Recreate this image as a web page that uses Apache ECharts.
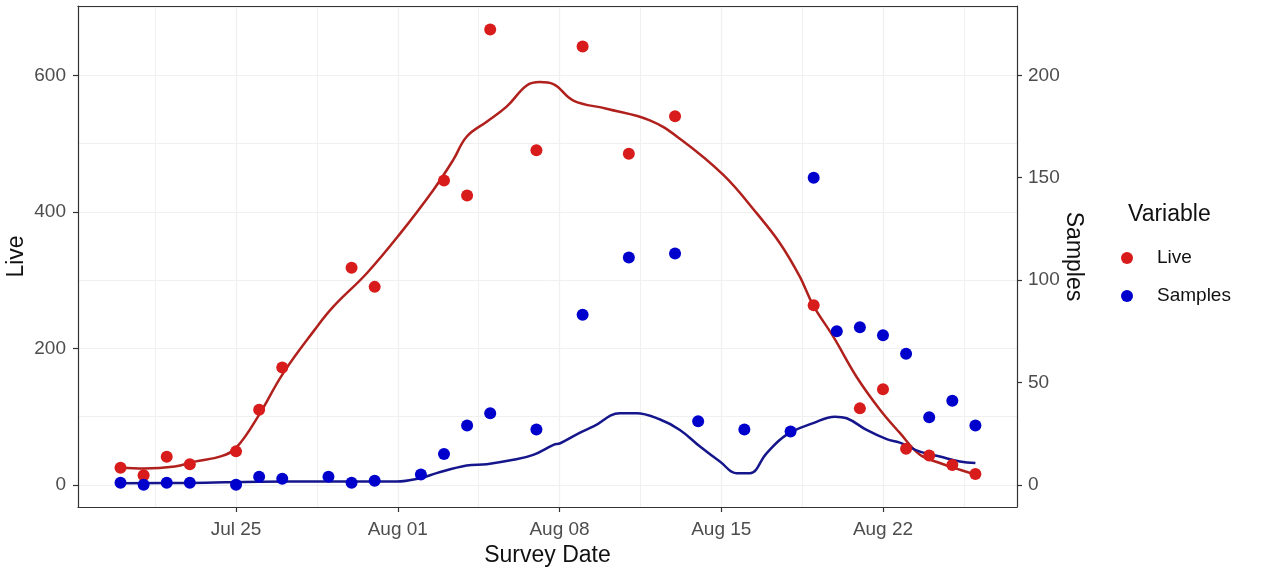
<!DOCTYPE html>
<html><head><meta charset="utf-8">
<script src="https://cdn.jsdelivr.net/npm/echarts@6/dist/echarts.min.js"></script>
<style>html,body{margin:0;padding:0;background:#fff}#c{width:1270px;height:571px}</style>
</head><body><div id="c"></div>
<script>
// ---- data ----
const liveDates = ['07-20','07-21','07-22','07-23','07-25','07-26','07-27','07-30','07-31','08-03','08-04','08-05','08-07','08-09','08-11','08-13','08-19','08-21','08-22','08-23','08-24','08-25','08-26'];
const liveValues = [25,14,41,30,49,110,172,318,290,446,424,667,490,642,485,540,263,112,140,53,43,29,16];

const sampleDates = ['07-20','07-21','07-22','07-23','07-25','07-26','07-27','07-29','07-30','07-31','08-02','08-03','08-04','08-05','08-07','08-09','08-11','08-13','08-14','08-16','08-18','08-19','08-20','08-21','08-22','08-23','08-24','08-25','08-26'];
const sampleValues = [1,0,1,1,0,4,3,4,1,2,5,15,29,35,27,83,111,113,31,27,26,150,75,77,73,64,33,41,29];

// smoothed trend curves (x = days after Jul 25)
const liveTrendDays   = [-5,-4,-2.65,-1.79,-0.63,0,0.95,2.03,3.4,4.21,5.66,7.1,8.54,9.4,9.98,10.85,11.71,12.58,13.15,13.73,14.6,16.04,17.91,19.21,21.09,22.53,23.54,24.4,24.98,25.85,26.86,27.87,28.73,29.6,30.46,31.33,32];
const liveTrendValues = [25,24,27,34,42,54,100,163,227,261,310,368,432,476,510,532,554,585,590,587,563,551,534,507,454,398,354,305,263,217,158,110,76,44,32,22,15];

const sampleTrendDays   = [-5,-2,1,3.63,6.95,7.96,8.68,9.98,10.85,12,12.86,13.74,14.03,14.89,15.47,16.61,17.33,18.33,19.21,20.08,20.94,21.67,22.24,22.96,23.82,24.98,25.92,26.43,27.29,28.16,28.73,29.6,30.46,31.33,32];
const sampleTrendValues = [0.8,0.9,1.5,1.6,1.6,3.2,5.7,9.4,10.1,12.2,14.6,19.5,20.3,25.5,28.5,35,35,32,26.8,18.7,11.4,5.7,5.7,15.4,24.4,30.1,33.3,32.5,26.8,22.3,20.6,16.2,13.8,11.4,10.6];

const xTickDays   = [0,7,14,21,28];
const xTickLabels = ['Jul 25','Aug 01','Aug 08','Aug 15','Aug 22'];
const liveTicks   = [0,200,400,600];
const sampleTicks = [0,50,100,150,200];

// ---- helpers ----
const ORIGIN = Date.UTC(2000, 6, 25);
function dayOffset(md){ const p = md.split('-'); return (Date.UTC(2000, +p[0]-1, +p[1]) - ORIGIN)/86400000; }
const FONT = '"Liberation Sans", Arial, sans-serif';

const X_MIN = -6.84, X_MAX = 33.8;
const Y_MIN = -32.5, Y_MAX = 701.5;
const RATIO = 3; // Live = 3 x Samples on the secondary axis

const chart = echarts.init(document.getElementById('c'), null, {renderer:'canvas'});
const tickLabel = {color:'#4D4D4D', fontSize:19, fontFamily:FONT};
const border = {show:true, onZero:false, lineStyle:{color:'#333', width:1.2}};
const tick = {show:true, length:5, lineStyle:{color:'#333', width:1.2}};

chart.setOption({
  animation:false,
  backgroundColor:'#fff',
  textStyle:{fontFamily:FONT},
  grid:{left:78, right:253, top:6, bottom:64, containLabel:false, outerBoundsMode:'none', show:false},
  title:{text:'Variable', left:1128, top:203, padding:0, textStyle:{fontSize:23, fontWeight:'normal', color:'#111', fontFamily:FONT}},
  legend:{orient:'vertical', left:1121, top:248, padding:0, itemGap:18, itemWidth:50, itemHeight:12, icon:'circle',
          data:['Live','Samples'], selectedMode:false,
          textStyle:{fontSize:19, color:'#111', lineHeight:20, fontFamily:FONT}},
  xAxis:[
    {type:'value', min:X_MIN, max:X_MAX, minInterval:7, maxInterval:7, position:'bottom',
     name:'Survey Date', nameLocation:'middle', nameGap:37, nameMoveOverlap:false,
     nameTextStyle:{fontSize:23, color:'#111', fontFamily:FONT},
     axisLine:border,
     axisTick:Object.assign({customValues:xTickDays}, tick),
     axisLabel:Object.assign({margin:13, customValues:xTickDays,
        formatter:v=>{const i = xTickDays.indexOf(Math.round(v*100)/100); return i>=0 ? xTickLabels[i] : '';}}, tickLabel),
     splitLine:{show:true, lineStyle:{color:'#E4E4E4', width:1.2}, customValues:xTickDays}},
    {type:'value', min:X_MIN, max:X_MAX, minInterval:3.5, maxInterval:3.5, position:'top',
     axisLine:border, axisTick:{show:false}, axisLabel:{show:false},
     splitLine:{show:true, lineStyle:{color:'#F0F0F0', width:1}}}
  ],
  yAxis:[
    {type:'value', position:'left', min:Y_MIN, max:Y_MAX, minInterval:200, maxInterval:200,
     name:'Live', nameLocation:'middle', nameGap:50, nameRotate:90, nameMoveOverlap:false,
     nameTextStyle:{fontSize:23, color:'#111', fontFamily:FONT},
     axisLine:border,
     axisTick:Object.assign({customValues:liveTicks}, tick),
     axisLabel:Object.assign({margin:12, customValues:liveTicks,
        formatter:v=>liveTicks.indexOf(Math.round(v))>=0 && Math.abs(v-Math.round(v))<1e-6 ? String(Math.round(v)) : ''}, tickLabel),
     splitLine:{show:true, lineStyle:{color:'#E4E4E4', width:1.2}, customValues:liveTicks}},
    {type:'value', position:'right', min:Y_MIN/RATIO, max:Y_MAX/RATIO, minInterval:50, maxInterval:50,
     name:'Samples', nameLocation:'middle', nameGap:45, nameRotate:-90, nameMoveOverlap:false,
     nameTextStyle:{fontSize:23, color:'#111', fontFamily:FONT},
     axisLine:border,
     axisTick:Object.assign({customValues:sampleTicks}, tick),
     axisLabel:Object.assign({margin:11, customValues:sampleTicks,
        formatter:v=>sampleTicks.indexOf(Math.round(v))>=0 && Math.abs(v-Math.round(v))<1e-6 ? String(Math.round(v)) : ''}, tickLabel),
     splitLine:{show:false}},
    {type:'value', position:'left', min:Y_MIN, max:Y_MAX, minInterval:100, maxInterval:100,
     axisLine:{show:false, onZero:false}, axisTick:{show:false}, axisLabel:{show:false},
     splitLine:{show:true, lineStyle:{color:'#F0F0F0', width:1}}}
  ],
  series:[
    {name:'Live trend', type:'line', xAxisIndex:0, yAxisIndex:0, showSymbol:false, smooth:0.4,
     data:liveTrendDays.map((d,i)=>[d, liveTrendValues[i]]),
     lineStyle:{color:'#B0201C', width:2.5}, itemStyle:{color:'#B0201C'}, z:2, silent:true},
    {name:'Samples trend', type:'line', xAxisIndex:0, yAxisIndex:1, showSymbol:false, smooth:0.4,
     data:sampleTrendDays.map((d,i)=>[d, sampleTrendValues[i]]),
     lineStyle:{color:'#16168C', width:2.5}, itemStyle:{color:'#16168C'}, z:2, silent:true},
    {name:'Live', type:'scatter', xAxisIndex:0, yAxisIndex:0, symbol:'circle', symbolSize:12,
     data:liveDates.map((d,i)=>[dayOffset(d), liveValues[i]]),
     itemStyle:{color:'#D81B1B', opacity:1}, z:3},
    {name:'Samples', type:'scatter', xAxisIndex:0, yAxisIndex:1, symbol:'circle', symbolSize:12,
     data:sampleDates.map((d,i)=>[dayOffset(d), sampleValues[i]]),
     itemStyle:{color:'#0000CD', opacity:1}, z:3}
  ]
});
</script></body></html>
